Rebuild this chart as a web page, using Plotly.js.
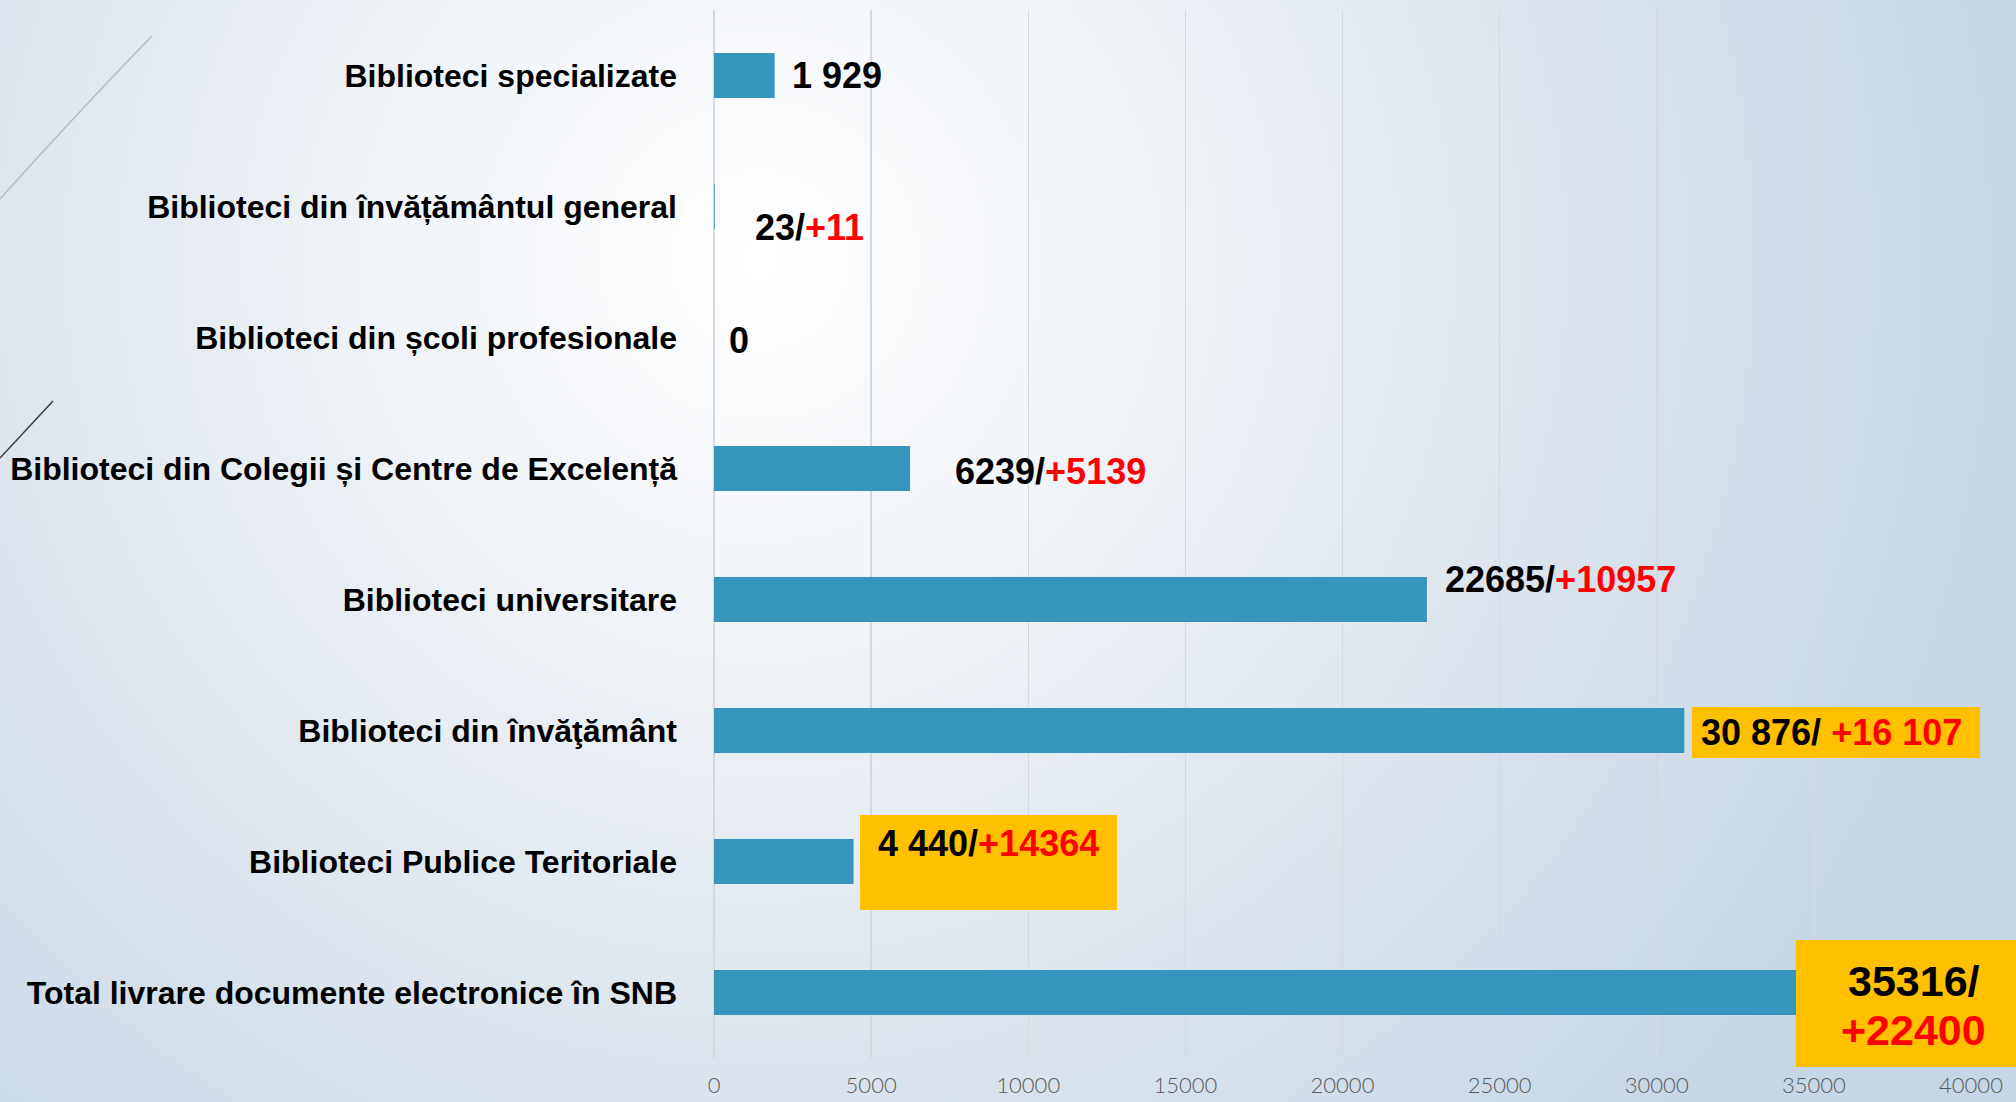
<!DOCTYPE html>
<html>
<head>
<meta charset="utf-8">
<script src="https://cdn.plot.ly/plotly-3.0.1.min.js"></script>
<style>
  html, body { margin: 0; padding: 0; width: 2016px; height: 1102px; overflow: hidden; }
  body { background: radial-gradient(circle at 760px 260px, #ffffff 0px, #f2f5f9 330px, #dee6ee 760px, #c7d6e5 1250px); }
  #chart { width: 2016px; height: 1102px; }
</style>
</head>
<body>
<div id="chart"></div>
<script>
// ---- data ----
const categories = [
  'Biblioteci specializate',
  'Biblioteci din învățământul general',
  'Biblioteci din școli profesionale',
  'Biblioteci din Colegii și Centre de Excelență',
  'Biblioteci universitare',
  'Biblioteci din învăţământ',
  'Biblioteci Publice Teritoriale',
  'Total livrare documente electronice în SNB'
];
const values = [1929, 23, 0, 6239, 22685, 30876, 4440, 35316];
const valueLabels = ['1 929', '23/', '0', '6239/', '22685/', '30 876/ ', '4 440/', '35316/'];
const incrementLabels = ['', '+11', '', '+5139', '+10957', '+16 107', '+14364', '+22400'];
const xTicks = [0, 5000, 10000, 15000, 20000, 25000, 30000, 35000, 40000];

// ---- geometry helpers (page pixels -> paper) ----
const W = 2016, H = 1102;
const M = {l: 714, r: 45, t: 10, b: 44};
const PW = W - M.l - M.r, PH = H - M.t - M.b;
const px = x => (x - M.l) / PW;
const py = y => (H - M.b - y) / PH;

const labelFont = {family: 'Liberation Sans, Arial, sans-serif', size: 36, color: '#000000'};
// per-label offsets (pixels) from bar end / row centre
const labelShift = [[15, 0], [38, -21], [13, -3], [43, -3], [16, 20], [15, -2], [22, 18]];

const annotations = [];
for (let i = 0; i < 7; i++) {
  const inc = incrementLabels[i] ? '<span style="color:#ff0000">' + incrementLabels[i] + '</span>' : '';
  annotations.push({
    x: values[i], y: categories[i], xref: 'x', yref: 'y',
    xanchor: 'left', yanchor: 'middle',
    xshift: labelShift[i][0], yshift: labelShift[i][1],
    text: '<b>' + valueLabels[i] + inc + '</b>',
    showarrow: false, font: labelFont
  });
}
// last row: two-line label inside yellow box
annotations.push({
  x: values[7], y: categories[7], xref: 'x', yref: 'y',
  xanchor: 'center', yanchor: 'middle', xshift: 90, yshift: 12,
  text: '<b>' + valueLabels[7] + '</b>', showarrow: false,
  font: Object.assign({}, labelFont, {size: 43})
});
annotations.push({
  x: values[7], y: categories[7], xref: 'x', yref: 'y',
  xanchor: 'center', yanchor: 'middle', xshift: 90, yshift: -37,
  text: '<b><span style="color:#ff0000">' + incrementLabels[7] + '</span></b>', showarrow: false,
  font: Object.assign({}, labelFont, {size: 43})
});

const box = (x0, y0, x1, y1) => ({
  type: 'rect', xref: 'paper', yref: 'paper',
  x0: px(x0), x1: px(x1), y0: py(y1), y1: py(y0),
  fillcolor: '#FFC000', line: {width: 0}, layer: 'above'
});

const shapes = [
  box(1692, 707, 1980, 758),
  box(860, 815, 1117, 910),
  box(1796, 940, 2030, 1067),
  // decorative background strokes
  {type: 'path', xref: 'paper', yref: 'paper',
   path: 'M ' + px(152) + ',' + py(36) + ' Q ' + px(80) + ',' + py(110) + ' ' + px(0) + ',' + py(199),
   line: {color: '#b5bcc4', width: 1.5}, layer: 'below'},
  {type: 'path', xref: 'paper', yref: 'paper',
   path: 'M ' + px(53) + ',' + py(401) + ' L ' + px(0) + ',' + py(458),
   line: {color: '#3a3a3a', width: 1.5}, layer: 'below'}
];

const trace = {
  type: 'bar', orientation: 'h',
  x: values, y: categories,
  width: 0.345,
  marker: {color: '#3595BD', line: {width: 0}},
  hoverinfo: 'x+y'
};

const layout = {
  width: W, height: H,
  margin: M,
  paper_bgcolor: 'rgba(0,0,0,0)',
  plot_bgcolor: 'rgba(0,0,0,0)',
  showlegend: false,
  xaxis: {
    range: [0, 40000], tickvals: xTicks, tickformat: 'd',
    showgrid: true, gridcolor: '#d6d9dc', gridwidth: 1.5,
    zeroline: true, zerolinecolor: '#d6d9dc', zerolinewidth: 1.5,
    showline: false, ticks: '',
    ticklabelstandoff: 12,
    tickfont: {family: 'Lato, DejaVu Sans, sans-serif', size: 22, color: '#5a5a5a', weight: 300}
  },
  yaxis: {
    type: 'category', autorange: 'reversed',
    showgrid: false, zeroline: false, showline: false, ticks: '',
    ticklabelstandoff: 36,
    tickfont: {family: 'Liberation Sans, Arial, sans-serif', size: 32, color: '#000000', weight: 700}
  },
  annotations: annotations,
  shapes: shapes
};

Plotly.newPlot('chart', [trace], layout, {displayModeBar: false, staticPlot: true});
</script>
</body>
</html>
